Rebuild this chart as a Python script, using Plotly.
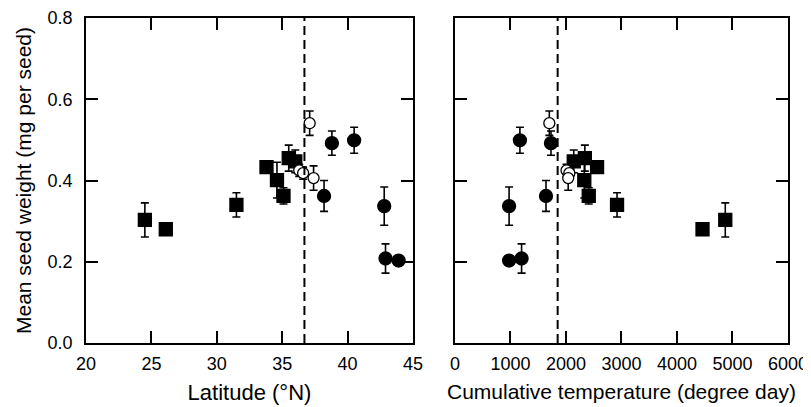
import plotly.graph_objects as go

# ---- data ----
# squares (filled)
sq_lat = [24.5, 26.1, 31.5, 33.8, 34.6, 35.1, 35.5, 36.0]
sq_temp = [4870, 4460, 2920, 2560, 2330, 2410, 2340, 2140]
sq_w = [0.303, 0.280, 0.340, 0.433, 0.401, 0.362, 0.455, 0.447]
sq_err = [0.042, 0.008, 0.030, 0.006, 0.044, 0.020, 0.032, 0.028]

# open circles
oc_lat = [37.1, 36.3, 36.6, 37.4]
oc_temp = [1700, 2010, 2060, 2040]
oc_w = [0.541, 0.425, 0.418, 0.406]
oc_err = [0.030, 0.015, 0.015, 0.030]

# filled circles
fc_lat = [38.2, 38.8, 40.5, 42.8, 42.9, 43.9]
fc_temp = [1640, 1730, 1170, 975, 1200, 975]
fc_w = [0.362, 0.492, 0.499, 0.337, 0.208, 0.203]
fc_err = [0.038, 0.030, 0.032, 0.047, 0.036, 0.005]

lat_threshold = 36.7
temp_threshold = 1850

lat_ticks = [20, 25, 30, 35, 40, 45]
temp_ticks = [0, 1000, 2000, 3000, 4000, 5000, 6000]
w_ticks = [0.0, 0.2, 0.4, 0.6, 0.8]

FONT = "Liberation Sans, Arial, sans-serif"

fig = go.Figure()

def add_series(xs, ys, errs, symbol, fill, size, xaxis):
    fig.add_trace(go.Scatter(
        x=xs, y=ys, mode="markers", xaxis=xaxis, yaxis="y" if xaxis == "x" else "y2",
        marker=dict(symbol=symbol, size=size, color=fill,
                    line=dict(color="black", width=1.3)),
        error_y=dict(type="data", array=errs, visible=True, color="black",
                     thickness=1.6, width=4),
        showlegend=False, cliponaxis=False))

for xaxis, sq_x, oc_x, fc_x in [("x", sq_lat, oc_lat, fc_lat),
                                ("x2", sq_temp, oc_temp, fc_temp)]:
    add_series(sq_x, sq_w, sq_err, "square", "black", 13, xaxis)
    add_series(fc_x, fc_w, fc_err, "circle", "black", 13, xaxis)
    add_series(oc_x, oc_w, oc_err, "circle", "white", 11, xaxis)

fig.add_shape(type="line", xref="x", yref="y", x0=lat_threshold, x1=lat_threshold,
              y0=0, y1=0.8, line=dict(color="black", width=2, dash="9px,5px"))
fig.add_shape(type="line", xref="x2", yref="y2", x0=temp_threshold, x1=temp_threshold,
              y0=0, y1=0.8, line=dict(color="black", width=2, dash="9px,5px"))

axis_common = dict(showline=True, linecolor="black", linewidth=1.8, mirror="allticks",
                   ticks="inside", ticklen=12, tickwidth=1.8, tickcolor="black",
                   showgrid=False, zeroline=False, automargin=False,
                   ticklabeloverflow="allow",
                   tickfont=dict(family=FONT, size=18, color="black"))

fig.update_layout(
    width=803, height=399,
    margin=dict(l=78, r=23, t=10, b=64),
    paper_bgcolor="white", plot_bgcolor="white",
    xaxis=dict(domain=[0, 0.4658], range=[20, 45], tickvals=lat_ticks,
               ticklabelstandoff=3,
               title=dict(text="Latitude (°N)", font=dict(family=FONT, size=22, color="black"),
                          standoff=12),
               **axis_common),
    yaxis=dict(domain=[0, 1], range=[0, 0.8], tickvals=w_ticks, tickformat=".1f",
               ticklabelstandoff=8,
               title=dict(text="Mean seed weight (mg per seed)",
                          font=dict(family=FONT, size=21, color="black"), standoff=10),
               **axis_common),
    xaxis2=dict(domain=[0.5256, 1], range=[0, 6000], tickvals=temp_ticks,
                ticklabelstandoff=3,
                title=dict(text="Cumulative temperature (degree day)",
                           font=dict(family=FONT, size=21, color="black"), standoff=12),
                **axis_common),
    yaxis2=dict(domain=[0, 1], range=[0, 0.8], tickvals=w_ticks, showticklabels=False,
                anchor="x2", **axis_common),
)
fig.update_layout(xaxis2_anchor="y2")

fig.write_html("out.html")
